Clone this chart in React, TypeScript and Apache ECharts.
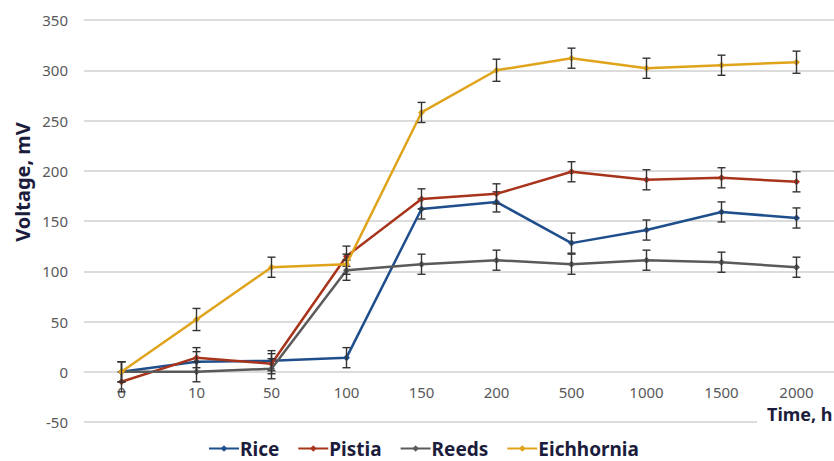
import React, { useEffect, useRef } from "react";
import * as echarts from "echarts";

const categories = ["0", "10", "50", "100", "150", "200", "500", "1000", "1500", "2000"];
const yTicks = [-50, 0, 50, 100, 150, 200, 250, 300, 350];

const riceValues = [0, 10, 11, 14, 162, 169, 128, 141, 159, 153];
const pistiaValues = [-10, 14, 8, 115, 172, 177, 199, 191, 193, 189];
const reedsValues = [0, 0, 3, 101, 107, 111, 107, 111, 109, 104];
const eichhorniaValues = [0, 52, 104, 107, 258, 300, 312, 302, 305, 308];

const riceErr = [10, 10, 10, 10, 10, 10, 10, 10, 10, 10];
const pistiaErr = [10, 10, 10, 10, 10, 10, 10, 10, 10, 10];
const reedsErr = [10, 10, 10, 10, 10, 10, 10, 10, 10, 10];
const eichhorniaErr = [10, 11, 10, 10, 10, 11, 10, 10, 10, 11];

const seriesNames = ["Rice", "Pistia", "Reeds", "Eichhornia"];
const seriesColors = ["#1f4e8c", "#a9341c", "#5a5a5a", "#e0a31c"];
const seriesValues = [riceValues, pistiaValues, reedsValues, eichhorniaValues];
const seriesErrors = [riceErr, pistiaErr, reedsErr, eichhorniaErr];

const FONT = "'Noto Sans', 'DejaVu Sans', sans-serif";

export default function App() {
  const ref = useRef<HTMLDivElement>(null);

  useEffect(() => {
    if (!ref.current) return;
    const chart = echarts.init(ref.current, undefined, { renderer: "svg" });

    const series: any[] = [];
    seriesNames.forEach((name, si) => {
      series.push({
        name,
        type: "line",
        data: seriesValues[si],
        symbol: "diamond",
        symbolSize: 7,
        lineStyle: { width: 2.5, color: seriesColors[si] },
        itemStyle: { color: seriesColors[si] },
        z: 2 + si * 2,
      });
      series.push({
        name: name + " error",
        type: "custom",
        z: 3 + si * 2,
        data: seriesValues[si].map((v, i) => [i, v - seriesErrors[si][i], v + seriesErrors[si][i]]),
        encode: { x: 0, y: [1, 2] },
        renderItem: (params: any, api: any) => {
          const x = api.value(0);
          const lo = api.coord([x, api.value(1)]);
          const hi = api.coord([x, api.value(2)]);
          const hw = 4;
          const style = { stroke: "#333333", lineWidth: 1.4 };
          return {
            type: "group",
            children: [
              { type: "line", shape: { x1: lo[0], y1: lo[1], x2: hi[0], y2: hi[1] }, style },
              { type: "line", shape: { x1: hi[0] - hw, y1: hi[1], x2: hi[0] + hw, y2: hi[1] }, style },
              { type: "line", shape: { x1: lo[0] - hw, y1: lo[1], x2: lo[0] + hw, y2: lo[1] }, style },
            ],
          };
        },
      });
    });

    chart.setOption({
      animation: false,
      backgroundColor: "#ffffff",
      grid: { left: 84, top: 20, width: 755, bottom: 39, containLabel: false },
      xAxis: {
        type: "category",
        data: categories,
        boundaryGap: true,
        axisLine: { show: false, onZero: false },
        axisTick: { show: false },
        axisLabel: { color: "#595959", fontSize: 15, fontFamily: FONT, margin: -38 },
      },
      yAxis: {
        type: "value",
        min: yTicks[0],
        max: yTicks[yTicks.length - 1],
        interval: 50,
        axisLine: { show: false },
        axisTick: { show: false },
        axisLabel: { color: "#595959", fontSize: 15, fontFamily: FONT, margin: 16 },
        splitLine: { lineStyle: { color: "#d0d0d0", width: 1.5 } },
      },
      legend: {
        data: seriesNames,
        top: 439,
        left: 208,
        padding: 0,
        itemWidth: 30,
        itemHeight: 8,
        itemGap: 18,
        textStyle: { color: "#1c1c3c", fontSize: 19, fontWeight: "bold", fontFamily: FONT, padding: [0, 0, 0, -4] },
      },
      graphic: [
        { type: "rect", left: 757, top: 417, shape: { width: 80, height: 10 }, style: { fill: "#ffffff" }, z: 10 },
        {
          type: "text",
          left: 767,
          top: 405,
          z: 11,
          style: { text: "Time, h", fill: "#1c1c3c", fontSize: 18, fontWeight: "bold", fontFamily: FONT },
        },
        {
          type: "text",
          x: 22,
          y: 182,
          rotation: Math.PI / 2,
          z: 11,
          style: {
            text: "Voltage, mV",
            fill: "#1c1c3c",
            fontSize: 20,
            fontWeight: "bold",
            fontFamily: FONT,
            align: "center",
            verticalAlign: "middle",
          },
        },
      ],
      series,
    });

    return () => chart.dispose();
  }, []);

  return (
    <div
      ref={ref}
      style={{ position: "fixed", left: 0, top: 0, width: 834, height: 461, background: "#fff" }}
    />
  );
}
